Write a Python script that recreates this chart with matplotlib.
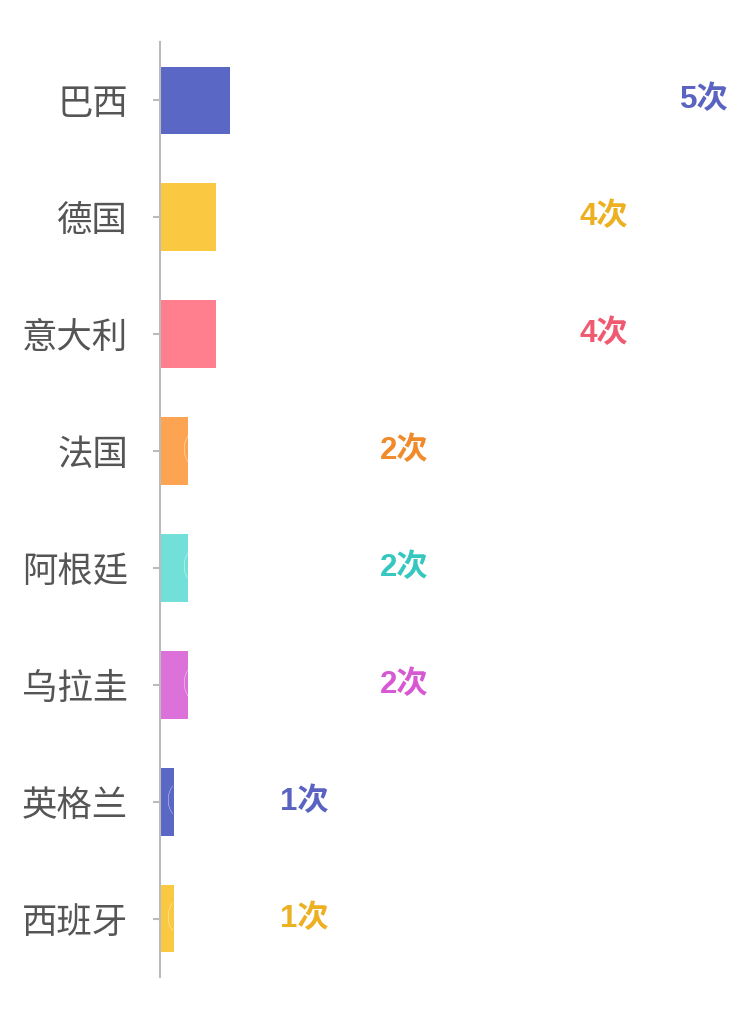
import matplotlib
matplotlib.use('Agg')
import matplotlib.pyplot as plt

plt.rcParams['font.family'] = ['Noto Sans CJK SC', 'DejaVu Sans']

# data
teams = ['巴西', '德国', '意大利', '法国', '阿根廷', '乌拉圭', '英格兰', '西班牙']
titles = [5, 4, 4, 2, 2, 2, 1, 1]
bar_colors = ['#5b67c4', '#fac841', '#ff7f8f', '#fca451', '#72dfd9', '#dc71d9', '#5b67c4', '#fac841']
label_colors = ['#5a63c2', '#ecb020', '#f05a70', '#f08a2a', '#35c7c0', '#d659d3', '#5a63c2', '#ecb020']

fig = plt.figure(figsize=(7.5, 10.19), dpi=100)
ax = fig.add_axes([160 / 750, 42 / 1019, 580 / 750, 935 / 1019])

y = list(range(len(teams)))
bars = ax.barh(y, titles, height=0.58, color=bar_colors)

ax.set_xlim(0, 580 / 14)
ax.set_ylim(len(teams) - 0.5, -0.5)

# value labels right of the bars
for i, v in enumerate(titles):
    ax.text((20 + 100 * v) / 14, y[i], f'{v}次', color=label_colors[i],
            fontsize=22.5, fontweight='bold', ha='left', va='center', clip_on=False,
            family=['Liberation Sans', 'Noto Sans CJK SC'])
    # white inner label, cut by the bar
    t = ax.text(1.2 * v - 0.8, y[i], '(', color='white', fontsize=23,
                fontweight='light', ha='left', va='center',
                family=['Lato', 'DejaVu Sans'])
    t.set_clip_path(bars[i])

ax.set_yticks(y)
ax.set_yticklabels(teams, fontsize=25.5, color='#555555')
ax.set_xticks([])
ax.tick_params(axis='y', length=5, width=1.5, color='#bbbbbb', pad=18)

for s in ['top', 'right', 'bottom']:
    ax.spines[s].set_visible(False)
ax.spines['left'].set_color('#bbbbbb')
ax.spines['left'].set_linewidth(1.5)

fig.savefig('out.png', dpi=100)
